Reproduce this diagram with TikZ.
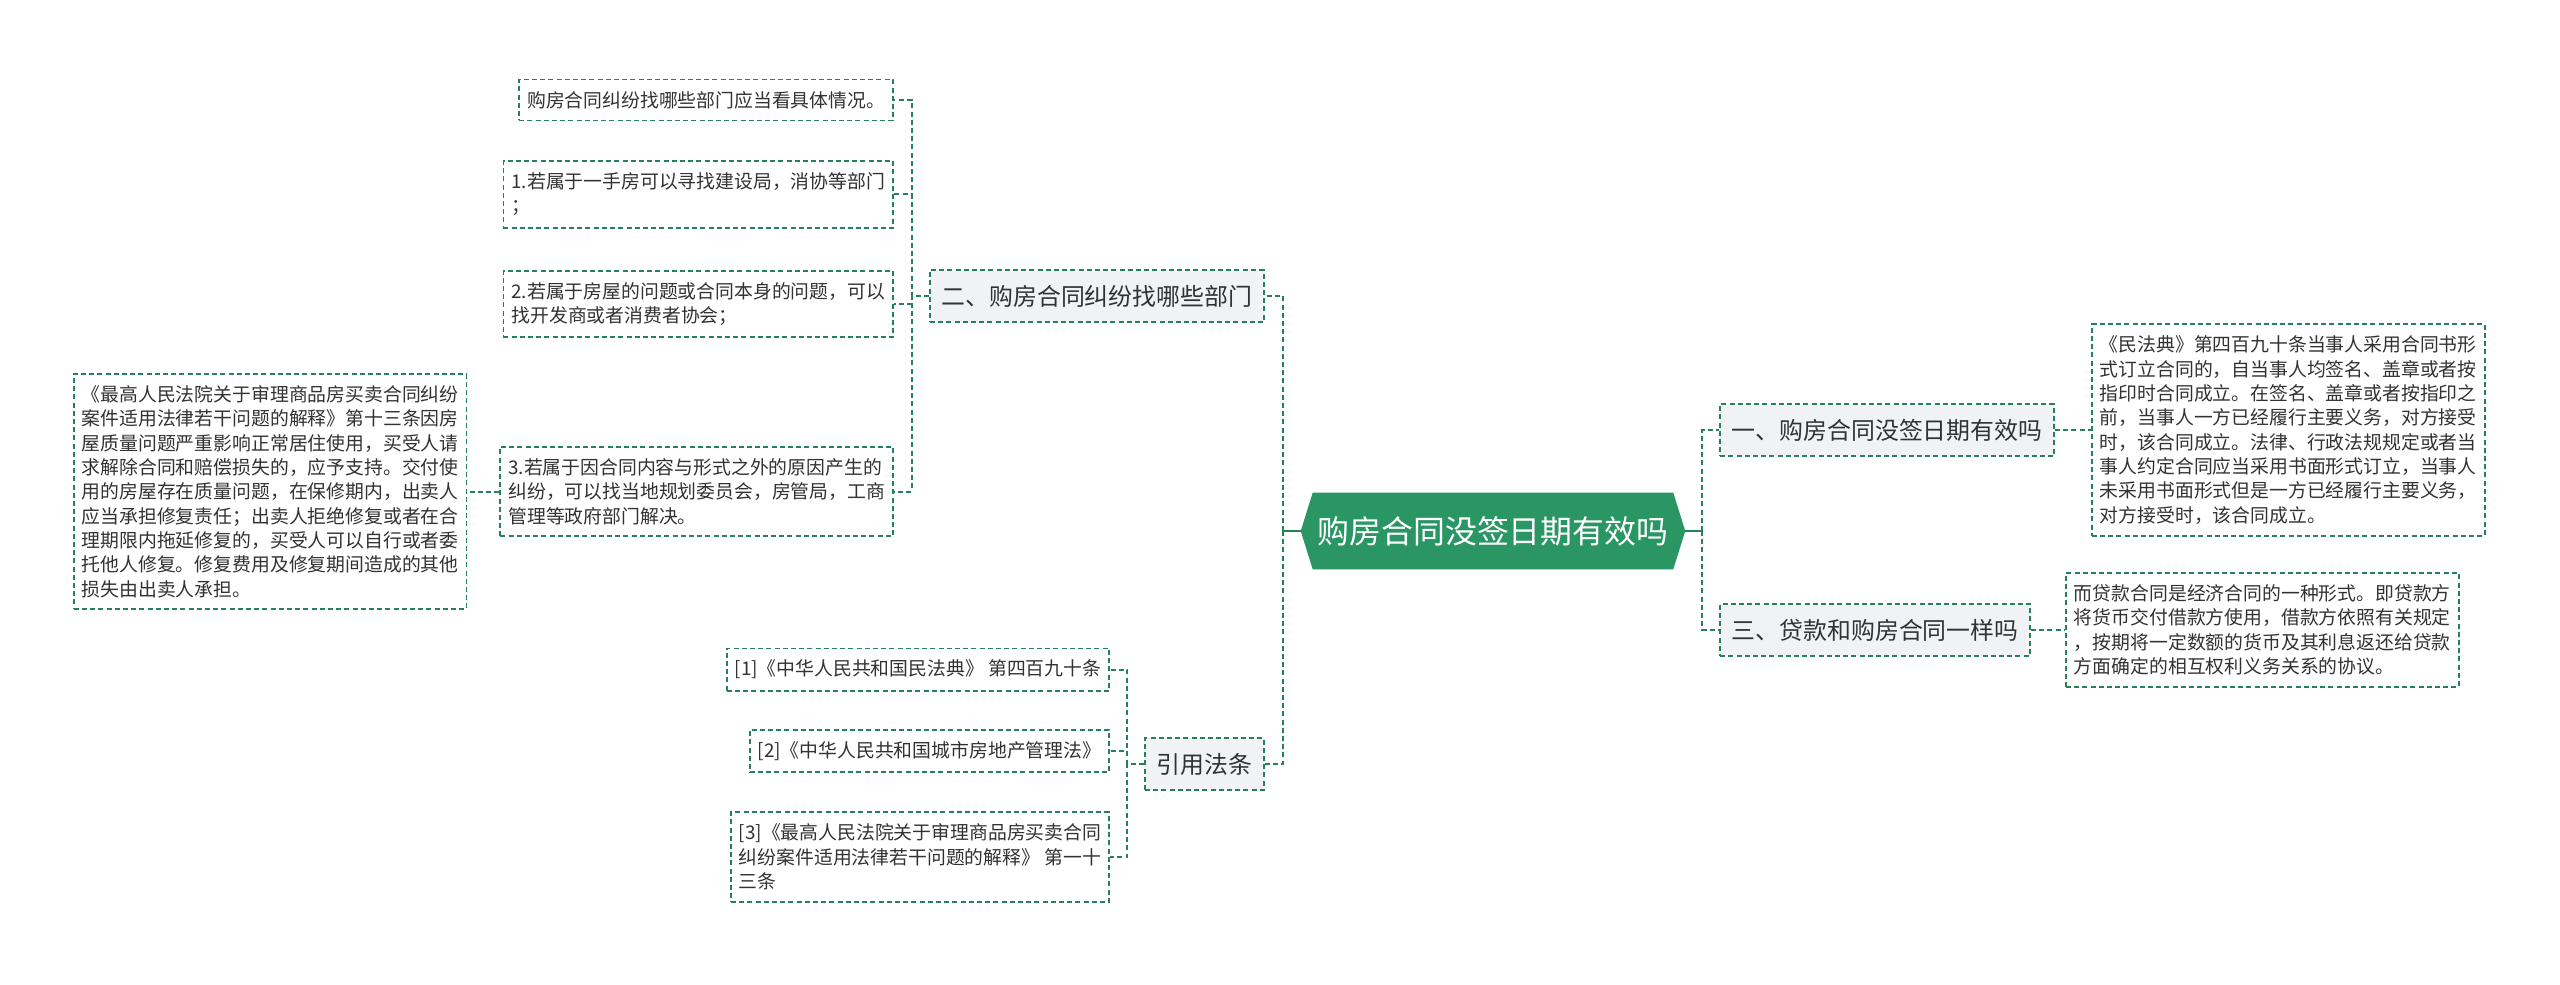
\documentclass[tikz,border=0pt]{standalone}
\usepackage{fontspec}
\newfontfamily\cjk{Noto Sans CJK SC}
\usepackage{xcolor}
\usepackage{tikz}
\usetikzlibrary{positioning,backgrounds}
\definecolor{lk}{RGB}{38,128,88}
\definecolor{rootfill}{RGB}{41,150,99}
\definecolor{subfill}{RGB}{240,242,245}
\definecolor{ink}{RGB}{50,50,50}

\begin{document}
\begin{tikzpicture}[
  link/.style={draw=lk,line width=0.05cm,dash pattern=on 0.125cm off 0.08cm},
  stem/.style={draw=lk,line width=0.05cm},
  leaf/.style={draw=lk,line width=0.045cm,dash pattern=on 0.125cm off 0.08cm,fill=white,align=left,
    inner xsep=0.2cm,inner ysep=0.29cm,text=ink,font=\cjk\fontsize{13.4pt}{17.3pt}\selectfont},
  sub/.style={draw=lk,line width=0.045cm,dash pattern=on 0.125cm off 0.08cm,fill=subfill,
    inner xsep=0.29cm,inner ysep=0.37cm,text=ink,font=\cjk\fontsize{17pt}{20pt}\selectfont}]
  \useasboundingbox (-37.325,13.275) rectangle (26.675,-11.35);
  \node[minimum width=9.6cm,minimum height=1.9cm,text=white,
    font=\cjk\fontsize{22.7pt}{26pt}\selectfont] (root) at (0,0) {购房合同没签日期有效吗};
  \begin{scope}[on background layer]
    \fill[rootfill] ([xshift=0.3cm]root.north west) -- ([xshift=-0.3cm]root.north east) -- (root.east)
      -- ([xshift=-0.3cm]root.south east) -- ([xshift=0.3cm]root.south west) -- (root.west) -- cycle;
  \end{scope}
  % first level
  \node[sub,left=0.9cm of root,yshift=5.875cm] (dept) {二、购房合同纠纷找哪些部门};
  \node[sub,left=0.9cm of root,yshift=-5.825cm] (law) {引用法条};
  \node[sub,right=0.85cm of root,yshift=2.525cm] (valid) {一、购房合同没签日期有效吗};
  \node[sub,right=0.85cm of root,yshift=-2.475cm] (loan) {三、贷款和购房合同一样吗};
  % leaves
  \node[leaf,left=0.875cm of dept,yshift=4.9cm] (d0) {购房合同纠纷找哪些部门应当看具体情况。};
  \node[leaf,left=0.875cm of dept,yshift=2.54cm] (d1) {1.若属于一手房可以寻找建设局，消协等部门\\；};
  \node[leaf,left=0.875cm of dept,yshift=-0.2cm] (d2)
    {2.若属于房屋的问题或合同本身的问题，可以\\找开发商或者消费者协会；};
  \node[leaf,left=0.875cm of dept,yshift=-4.89cm] (d3)
    {3.若属于因合同内容与形式之外的原因产生的\\纠纷，可以找当地规划委员会，房管局，工商\\管理等政府部门解决。};
  \node[leaf,left=0.8cm of d3] (d3note)
    {《最高人民法院关于审理商品房买卖合同纠纷\\案件适用法律若干问题的解释》第十三条因房\\屋质量问题严重影响正常居住使用，买受人请\\求解除合同和赔偿损失的，应予支持。交付使\\用的房屋存在质量问题，在保修期内，出卖人\\应当承担修复责任；出卖人拒绝修复或者在合\\理期限内拖延修复的，买受人可以自行或者委\\托他人修复。修复费用及修复期间造成的其他\\损失由出卖人承担。};
  \node[leaf,left=0.85cm of law,yshift=2.36cm] (l1) {[1]《中华人民共和国民法典》 第四百九十条};
  \node[leaf,left=0.85cm of law,yshift=0.325cm] (l2) {[2]《中华人民共和国城市房地产管理法》};
  \node[leaf,left=0.85cm of law,yshift=-2.325cm] (l3)
    {[3]《最高人民法院关于审理商品房买卖合同\\纠纷案件适用法律若干问题的解释》 第一十\\三条};
  \node[leaf,right=0.9cm of valid] (validtxt)
    {《民法典》第四百九十条当事人采用合同书形\\式订立合同的，自当事人均签名、盖章或者按\\指印时合同成立。在签名、盖章或者按指印之\\前，当事人一方已经履行主要义务，对方接受\\时，该合同成立。法律、行政法规规定或者当\\事人约定合同应当采用书面形式订立，当事人\\未采用书面形式但是一方已经履行主要义务，\\对方接受时，该合同成立。};
  \node[leaf,right=0.85cm of loan] (loantxt)
    {而贷款合同是经济合同的一种形式。即贷款方\\将货币交付借款方使用，借款方依照有关规定\\，按期将一定数额的货币及其利息返还给贷款\\方面确定的相互权利义务关系的协议。};
  % connectors
  \draw[stem] (root.west) -- ++(-0.45cm,0) coordinate (lj);
  \draw[stem] (root.east) -- ++(0.425cm,0) coordinate (rj);
  \draw[link] (lj) |- (dept.east);
  \draw[link] (lj) |- (law.east);
  \draw[link] (rj) |- (valid.west);
  \draw[link] (rj) |- (loan.west);
  \foreach \n in {d0,d1,d2,d3} \draw[link] (dept.west) -- ++(-0.4375cm,0) |- (\n.east);
  \foreach \n in {l1,l2,l3} \draw[link] (law.west) -- ++(-0.425cm,0) |- (\n.east);
  \draw[link] (d3.west) -- (d3note.east);
  \draw[link] (valid.east) -- (validtxt.west);
  \draw[link] (loan.east) -- (loantxt.west);
\end{tikzpicture}
\end{document}
